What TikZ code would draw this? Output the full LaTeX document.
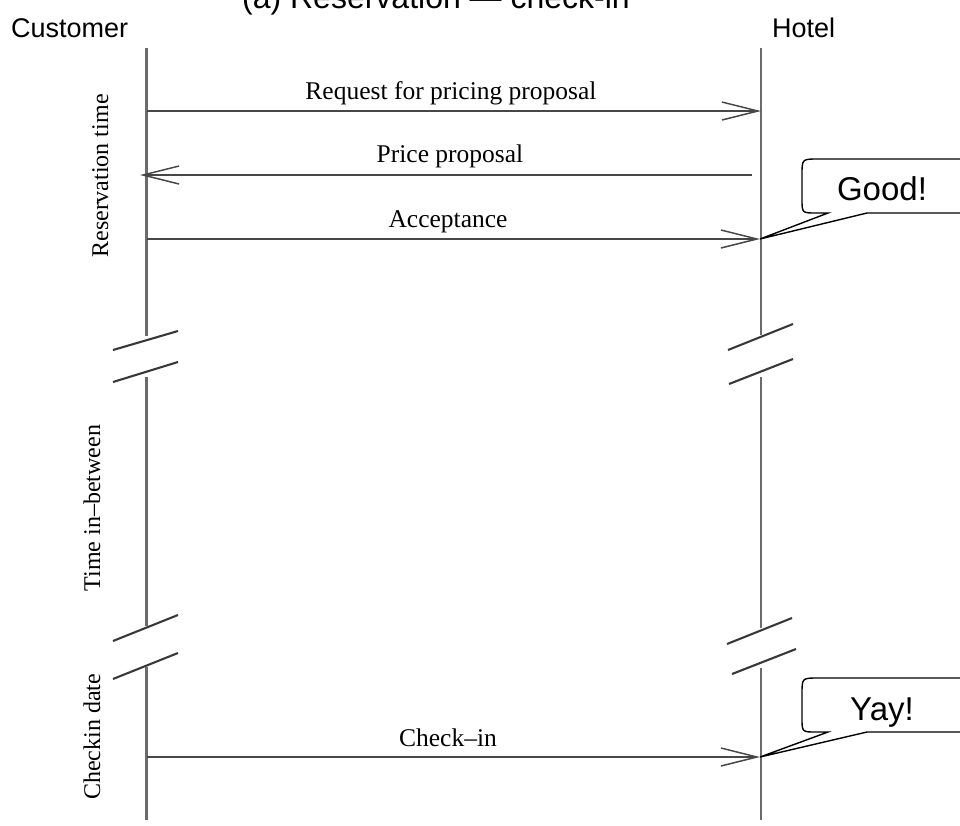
\documentclass[tikz,border=0pt]{standalone}
\usepackage{fontspec}
\setmainfont{Liberation Serif}
\newfontfamily\labelsans{Liberation Sans}
\usetikzlibrary{arrows.meta}

\begin{document}
\begin{tikzpicture}[x=1pt,y=-1pt,
  lifeline/.style={draw=black!58, line width=2.3pt},
  msg/.style={draw=black!72, line width=1.5pt,
    -{Straight Barb[length=36pt,width=18pt,line width=1.5pt]}},
  breakmark/.style={draw=black!78, line width=2.1pt},
  msglabel/.style={font=\fontsize{25.5}{28}\selectfont, anchor=base, inner sep=0pt},
  phase/.style={font=\fontsize{24}{28}\selectfont, rotate=90, anchor=base, inner sep=0pt},
  actor/.style={font=\labelsans\fontsize{27}{30}\selectfont, anchor=base west, inner sep=0pt},
  bubble/.style={draw=black, line width=1.4pt, fill=white},
  bubbletext/.style={font=\labelsans\fontsize{33}{36}\selectfont, anchor=base, inner sep=0pt}
]
\useasboundingbox (0,0) rectangle (960,825);
\clip (0,0) rectangle (960,825);

% caption and actors
\node[font=\labelsans\fontsize{32}{36}\selectfont, anchor=base, inner sep=0pt] (title) at (436,8) {(a) Reservation \textemdash\ check-in};
\node[actor] (customer) at (11,37) {Customer};
\node[actor] (hotel) at (772,37) {Hotel};

% lifeline end points
\coordinate (cA) at (146.5,48);  \coordinate (cB) at (146.5,336);
\coordinate (cC) at (146.5,377); \coordinate (cD) at (146.5,626);
\coordinate (cE) at (146.5,667); \coordinate (cF) at (146.5,820);
\coordinate (hA) at (761,48);  \coordinate (hB) at (761,335);
\coordinate (hC) at (761,377); \coordinate (hD) at (761,628);
\coordinate (hE) at (761,668); \coordinate (hF) at (761,820);

\draw[lifeline] (cA) -- (cB);
\draw[lifeline] (cC) -- (cD);
\draw[lifeline] (cE) -- (cF);
\draw[lifeline] (hA) -- (hB);
\draw[lifeline] (hC) -- (hD);
\draw[lifeline] (hE) -- (hF);

% time breaks
\draw[breakmark] (113,350) -- (178,331);
\draw[breakmark] (113,382) -- (178,362);
\draw[breakmark] (728,350) -- (793,324);
\draw[breakmark] (729,384) -- (793,359);
\draw[breakmark] (113,641) -- (178,615);
\draw[breakmark] (113,679) -- (178,653);
\draw[breakmark] (727,644) -- (792,618);
\draw[breakmark] (732,674) -- (796,649);

% message end points
\coordinate (m1s) at (146.5,111); \coordinate (m1e) at (761,111);
\coordinate (m2s) at (752,175);   \coordinate (m2e) at (140,175);
\coordinate (m3s) at (146.5,239); \coordinate (m3e) at (760,239);
\coordinate (m4s) at (146.5,757); \coordinate (m4e) at (760,757);

\draw[msg] (m1s) -- (m1e);
\draw[msg] (m2s) -- (m2e);
\draw[msg] (m3s) -- (m3e);
\draw[msg] (m4s) -- (m4e);

\node[msglabel] (l1) at (451,99) {Request for pricing proposal};
\node[msglabel] (l2) at (450,162) {Price proposal};
\node[msglabel] (l3) at (448,227) {Acceptance};
\node[msglabel] (l4) at (448,746) {Check\textendash in};

% phases
\node[phase] (p1) at (108,176) {Reservation time};
\node[phase] (p2) at (100,508) {Time in\textendash between};
\node[phase] (p3) at (100,737) {Checkin date};

% speech bubbles, tail pointing at the arrival of the message
\draw[bubble] (828,213) -- (m3e) -- (867,213) -- (1010,213) -- (1010,159) -- (818,159)
  .. controls (802,159) .. (802,175) -- (802,199) .. controls (802,213) .. (816,213) -- cycle;
\node[bubbletext] (good) at (882,200) {Good!};

\draw[bubble] (828,732) -- (m4e) -- (867,732) -- (1010,732) -- (1010,678) -- (818,678)
  .. controls (802,678) .. (802,694) -- (802,718) .. controls (802,732) .. (816,732) -- cycle;
\node[bubbletext] (yay) at (882,720) {Yay!};
\end{tikzpicture}
\end{document}
